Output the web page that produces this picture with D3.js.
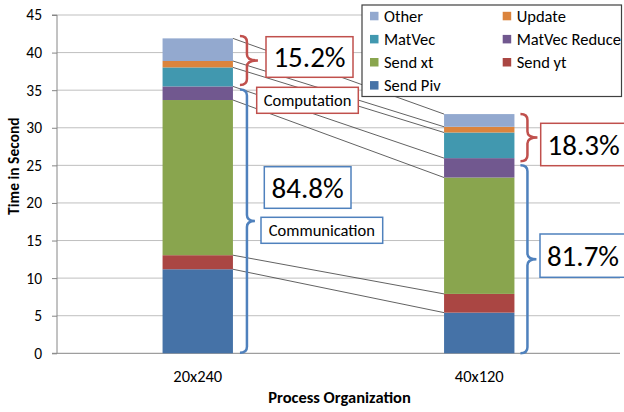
<!DOCTYPE html>
<html><head><meta charset="utf-8">
<script src="https://cdn.jsdelivr.net/npm/d3@7"></script>
<style>
html,body{margin:0;padding:0;background:#fff;}
svg{display:block;font-family:Carlito,Lato,"Open Sans",sans-serif;}
</style></head>
<body><svg id="chart" width="624" height="412"></svg>
<script>
(function(){
// ---- data ----
const categories = ["20x240", "40x120"];
const seriesNames = ["Send Piv", "Send yt", "Send xt", "MatVec Reduce", "MatVec", "Update", "Other"];
const sendPiv      = [11.18, 5.41];
const sendYt       = [1.87, 2.49];
const sendXt       = [20.64, 15.48];
const matVecReduce = [1.81, 2.58];
const matVec       = [2.53, 3.41];
const update       = [0.85, 0.76];
const other        = [3.01, 1.69];
const yTicks = [0, 5, 10, 15, 20, 25, 30, 35, 40, 45];
const computationLabels = ["15.2%", "18.3%"];
const communicationLabels = ["84.8%", "81.7%"];
const legendOrder = ["Other", "Update", "MatVec", "MatVec Reduce", "Send xt", "Send yt", "Send Piv"];

const colors = {
  "Send Piv": "#4572A7", "Send yt": "#AA4643", "Send xt": "#89A54E",
  "MatVec Reduce": "#71588F", "MatVec": "#4198AF", "Update": "#DB843D", "Other": "#93A9CF"
};
const RED = "#C0504D", BLUE = "#4F81BD";

const seriesValues = [sendPiv, sendYt, sendXt, matVecReduce, matVec, update, other];
const rows = categories.map((c, i) => {
  const r = {cat: c};
  seriesNames.forEach((s, k) => r[s] = seriesValues[k][i]);
  return r;
});
const stacked = d3.stack().keys(seriesNames)(rows);

const svg = d3.select("#chart");
const pLeft = 57, pRight = 620, pTop = 15, pBottom = 353.3;
const y = d3.scaleLinear().domain([0, 45]).range([pBottom, pTop]);
const x = d3.scaleBand().domain(categories).range([pLeft, pRight]).padding(0);
const barW = x.bandwidth() * 0.25;
const cx = c => x(c) + x.bandwidth() / 2;

// gridlines
svg.append("g").selectAll("line").data(yTicks.filter(t => t > 0)).join("line")
  .attr("x1", pLeft).attr("x2", pRight)
  .attr("y1", d => y(d)).attr("y2", d => y(d))
  .attr("stroke", "#bfbfbf").attr("stroke-width", 1);

// y axis
const yAxis = d3.axisLeft(y).tickValues(yTicks).tickSize(5).tickPadding(10);
const ga = svg.append("g").attr("transform", `translate(${pLeft},0)`).call(yAxis);
ga.select(".domain").attr("stroke", "#868686").attr("d", `M-5,${pBottom}H0V${pTop}H-5`);
ga.selectAll(".tick line").attr("stroke", "#868686");
ga.selectAll(".tick text").attr("font-size", 15.5).attr("fill", "#000").attr("font-family", "Carlito,Lato,sans-serif");
svg.append("line").attr("x1", pLeft).attr("x2", pRight).attr("y1", pBottom).attr("y2", pBottom)
  .attr("stroke", "#868686");

// bars
svg.append("g").selectAll("g").data(stacked).join("g")
  .attr("fill", d => colors[d.key])
  .selectAll("rect").data(d => d).join("rect")
  .attr("x", d => cx(d.data.cat) - barW / 2)
  .attr("width", barW)
  .attr("y", d => y(d[1]))
  .attr("height", d => y(d[0]) - y(d[1]));

// series lines
svg.append("g").selectAll("line").data(stacked).join("line")
  .attr("x1", cx(categories[0]) + barW / 2)
  .attr("x2", cx(categories[1]) - barW / 2)
  .attr("y1", d => y(d[0][1]))
  .attr("y2", d => y(d[1][1]))
  .attr("stroke", "#3a3a3a").attr("stroke-width", 0.8);

// x labels
svg.append("g").selectAll("text").data(categories).join("text")
  .attr("x", d => cx(d)).attr("y", 382).attr("text-anchor", "middle")
  .attr("font-size", 16.5).text(d => d);

svg.append("text").attr("x", (pLeft + pRight) / 2 + 1).attr("y", 403).attr("text-anchor", "middle")
  .attr("font-size", 16.5).attr("font-weight", "bold").text("Process Organization");
svg.append("text").attr("transform", `translate(19,${(pTop + pBottom) / 2 - 18}) rotate(-90)`)
  .attr("text-anchor", "middle").attr("font-size", 15.5).attr("font-weight", "bold").text("Time in Second");

// braces
function brace(x0, y0, y1, col, tipW) {
  const xv = x0 + 7, ym = (y0 + y1) / 2, r = 6;
  const p = `M${x0},${y0} Q${xv},${y0} ${xv},${y0 + r} L${xv},${ym - r} Q${xv},${ym} ${xv + tipW},${ym}` +
            ` Q${xv},${ym} ${xv},${ym + r} L${xv},${y1 - r} Q${xv},${y1} ${x0},${y1}`;
  svg.append("path").attr("d", p).attr("fill", "none").attr("stroke", col).attr("stroke-width", 2.5);
}
function box(x0, y0, w, h, col, label, fs) {
  svg.append("rect").attr("x", x0).attr("y", y0).attr("width", w).attr("height", h)
    .attr("fill", "#fff").attr("stroke", col).attr("stroke-width", 1.5);
  svg.append("text").attr("x", x0 + w / 2).attr("y", y0 + h / 2).attr("dy", "0.36em")
    .attr("text-anchor", "middle").attr("font-size", fs).attr("fill", "#000").text(label);
}

const compTop = stacked[6].map(d => y(d[1]));
const compBot = stacked[4].map(d => y(d[0]));
const commTop = stacked[3].map(d => y(d[1]));

const bx1 = cx(categories[0]) + barW / 2 + 7;
brace(bx1, compTop[0] - 2.5, compBot[0] - 1.5, RED, 11);
brace(bx1, commTop[0] + 3, y(0) - 0.5, BLUE, 8);
const bx2 = cx(categories[1]) + barW / 2 + 6;
brace(bx2, compTop[1], compBot[1] + 3, RED, 10);
brace(bx2, commTop[1] + 7, y(0), BLUE, 9);

box(266, 36.7, 87, 40.6, RED, computationLabels[0], 29);
box(256.7, 87.3, 101.6, 26, RED, "Computation", 16.5);
box(264.3, 166.7, 86.7, 41.6, BLUE, communicationLabels[0], 29);
box(261, 217.3, 121.7, 26, BLUE, "Communication", 16.5);
box(540.7, 123.3, 86, 42.4, RED, computationLabels[1], 29);
box(540, 234, 86, 43.3, BLUE, communicationLabels[1], 29);

// legend
const lg = svg.append("g");
lg.append("rect").attr("x", 362).attr("y", 5).attr("width", 259.5).attr("height", 91.5)
  .attr("fill", "#fff").attr("stroke", "#404040").attr("stroke-width", 1.2);
legendOrder.forEach((s, i) => {
  const col = i % 2, row = Math.floor(i / 2);
  const lx = col === 0 ? 370 : 502.7, ly = 16 + row * 23.1;
  lg.append("rect").attr("x", lx).attr("y", ly - 4.2).attr("width", 8.5).attr("height", 8.5).attr("fill", colors[s]);
  lg.append("text").attr("x", lx + 14).attr("y", ly).attr("dy", "0.36em").attr("font-size", 16.5).text(s);
});
})();
</script></body></html>
